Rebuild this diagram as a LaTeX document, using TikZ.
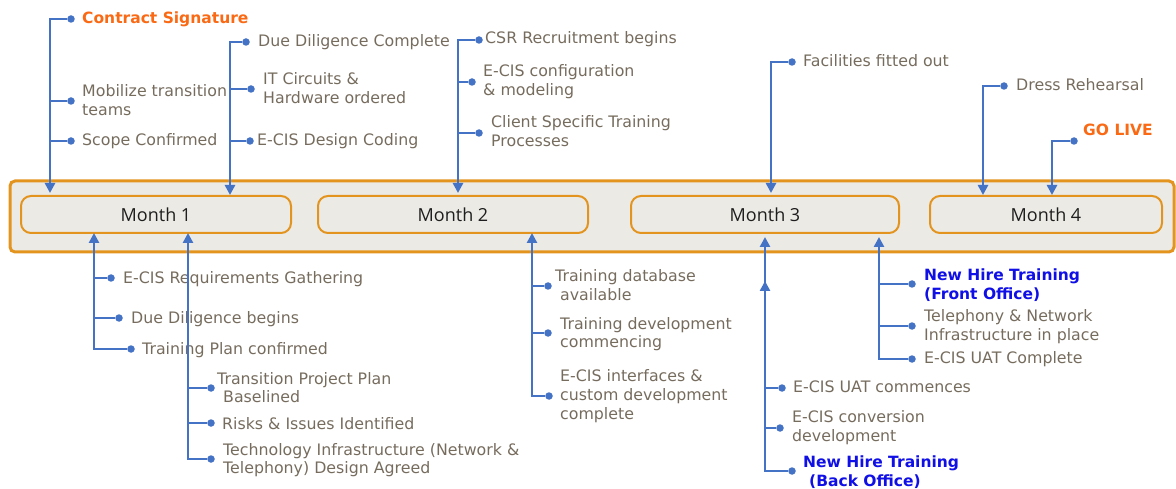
\documentclass[tikz,border=0pt]{standalone}
\usepackage{fontspec}
\setmainfont{DejaVu Sans}
\newfontfamily\monthfont{Open Sans}
\usetikzlibrary{arrows.meta}
\definecolor{lb}{RGB}{68,114,196}
\definecolor{txt}{RGB}{118,108,94}
\definecolor{orng}{RGB}{227,148,30}
\definecolor{bandfill}{RGB}{236,234,229}
\definecolor{hot}{RGB}{250,105,20}
\definecolor{hblue}{RGB}{15,15,230}
\tikzset{
  lbl/.style={anchor=base west, inner sep=0pt, align=left, font=\fontsize{15.8}{18.7}\selectfont, text=txt},
  hotlbl/.style={lbl, font=\fontsize{15.5}{18.7}\selectfont\bfseries, text=hot},
  bluelbl/.style={lbl, font=\fontsize{15.5}{18.7}\selectfont\bfseries, text=hblue},
  dotn/.style={circle, fill=lb, inner sep=0pt, minimum size=7.5pt},
  arr/.style={draw=lb, line width=2.9pt, -{Triangle[length=10pt,width=10pt]}},
  br/.style={draw=lb, line width=2.3pt},
  month/.style={draw=orng, line width=2pt, fill=bandfill, rounded corners=10pt, minimum width=270pt, minimum height=37pt, font=\monthfont\fontsize{18}{20}\selectfont, text={rgb,255:red,30;green,30;blue,30}},
  band/.style={draw=orng, line width=3pt, fill=bandfill, rounded corners=5pt, minimum width=1164pt, minimum height=71pt, inner sep=0pt}
}
\begin{document}
\begin{tikzpicture}[x=1pt,y=-1pt]
\useasboundingbox (0,0) rectangle (1176,489);
% band and months
\node[band] (band) at (592,216.5) {};
\node[month] (m1) at (156,214.5) {Month 1};
\node[month] (m2) at (453,214.5) {Month 2};
\node[month, minimum width=268pt] (m3) at (765,214.5) {Month 3};
\node[month, minimum width=232pt] (m4) at (1046,214.5) {Month 4};

% arrow tip coordinates
\coordinate (tA) at (50,193);
\coordinate (tB) at (230,195);
\coordinate (tC) at (458,193);
\coordinate (tD) at (771,193);
\coordinate (tE) at (983,195);
\coordinate (tF) at (1052,195);
\coordinate (bA) at (94,233);
\coordinate (bB) at (188,233);
\coordinate (bC) at (532,233);
\coordinate (bD1) at (765,237);
\coordinate (bD2) at (765,281);
\coordinate (bE) at (879,237);

% ---- labels above (anchor = baseline of last line)
\node[hotlbl] (l1) at (82,24) {Contract Signature};
\node[lbl] (l2) at (82,115.2) {Mobilize transition\\teams};
\node[lbl] (l3) at (82,146) {Scope Confirmed};
\node[lbl] (l4) at (258,46.7) {Due Diligence Complete};
\node[lbl] (l5) at (263,103.7) {IT Circuits \&\\Hardware ordered};
\node[lbl] (l6) at (257,146) {E-CIS Design Coding};
\node[lbl] (l7) at (485,44) {CSR Recruitment begins};
\node[lbl] (l8) at (483,95.7) {E-CIS configuration\\\& modeling};
\node[lbl] (l9) at (491,146.7) {Client Specific Training\\Processes};
\node[lbl] (l10) at (803,66.5) {Facilities fitted out};
\node[lbl] (l11) at (1016,90.7) {Dress Rehearsal};
\node[hotlbl] (l12) at (1083,136) {GO LIVE};

% ---- labels below
\node[lbl] (b1) at (123,283.3) {E-CIS Requirements Gathering};
\node[lbl] (b2) at (131,323.3) {Due Diligence begins};
\node[lbl] (b3) at (142,354) {Training Plan confirmed};
\node[lbl] (b4) at (217,402.7) {Transition Project Plan\\\hspace*{6pt}Baselined};
\node[lbl] (b5) at (222,429) {Risks \& Issues Identified};
\node[lbl] (b6) at (223,473.7) {Technology Infrastructure (Network \&\\Telephony) Design Agreed};
\node[lbl] (b7) at (555,300.4) {Training database\\\hspace*{5pt}available};
\node[lbl] (b8) at (560,347.7) {Training development\\commencing};
\node[lbl] (b9) at (560,419.1) {E-CIS interfaces \&\\custom development\\complete};
\node[lbl] (b10) at (793,392.7) {E-CIS UAT commences};
\node[lbl] (b11) at (792,441.4) {E-CIS conversion\\development};
\node[bluelbl] (b12) at (803,486) {New Hire Training\\\hspace*{6pt}(Back Office)};
\node[bluelbl] (b13) at (924,299.4) {New Hire Training\\(Front Office)};
\node[lbl] (b14) at (924,340.4) {Telephony \& Network\\Infrastructure in place};
\node[lbl] (b15) at (924,363.3) {E-CIS UAT Complete};

% ---- dots
\node[dotn] (d1) at (71,19) {};
\node[dotn] (d2) at (71,101) {};
\node[dotn] (d3) at (71,141) {};
\node[dotn] (d4) at (246,42) {};
\node[dotn] (d5) at (251,89) {};
\node[dotn] (d6) at (250,141) {};
\node[dotn] (d7) at (479,40) {};
\node[dotn] (d8) at (472,82) {};
\node[dotn] (d9) at (479,133) {};
\node[dotn] (d10) at (792,62) {};
\node[dotn] (d11) at (1004,86) {};
\node[dotn] (d12) at (1074,141) {};
\node[dotn] (e1) at (111,278) {};
\node[dotn] (e2) at (119,318) {};
\node[dotn] (e3) at (131,349) {};
\node[dotn] (e4) at (211,388) {};
\node[dotn] (e5) at (211,423) {};
\node[dotn] (e6) at (211,459) {};
\node[dotn] (e7) at (548,286) {};
\node[dotn] (e8) at (548,333) {};
\node[dotn] (e9) at (549,396) {};
\node[dotn] (e10) at (782,388) {};
\node[dotn] (e11) at (780,428) {};
\node[dotn] (e12) at (792,471) {};
\node[dotn] (e13) at (912,284) {};
\node[dotn] (e14) at (912,326) {};
\node[dotn] (e15) at (912,359) {};

% ---- connectors above
\draw[arr] (d1) -| (tA);
\draw[br] (d2) -- (d2 -| tA);
\draw[br] (d3) -- (d3 -| tA);
\draw[arr] (d4) -| (tB);
\draw[br] (d5) -- (d5 -| tB);
\draw[br] (d6) -- (d6 -| tB);
\draw[arr] (d7) -| (tC);
\draw[br] (d8) -- (d8 -| tC);
\draw[br] (d9) -- (d9 -| tC);
\draw[arr] (d10) -| (tD);
\draw[arr] (d11) -| (tE);
\draw[arr] (d12) -| (tF);

% ---- connectors below
\draw[arr] (e3) -| (bA);
\draw[br] (e1) -- (e1 -| bA);
\draw[br] (e2) -- (e2 -| bA);
\draw[arr] (e6) -| (bB);
\draw[br] (e4) -- (e4 -| bB);
\draw[br] (e5) -- (e5 -| bB);
\draw[arr] (e9) -| (bC);
\draw[br] (e7) -- (e7 -| bC);
\draw[br] (e8) -- (e8 -| bC);
\draw[arr] (e10) -| (bD1);
\draw[arr] (e12) -| (bD2);
\draw[br] (e11) -- (e11 -| bD2);
\draw[arr] (e15) -| (bE);
\draw[br] (e13) -- (e13 -| bE);
\draw[br] (e14) -- (e14 -| bE);
\end{tikzpicture}
\end{document}
